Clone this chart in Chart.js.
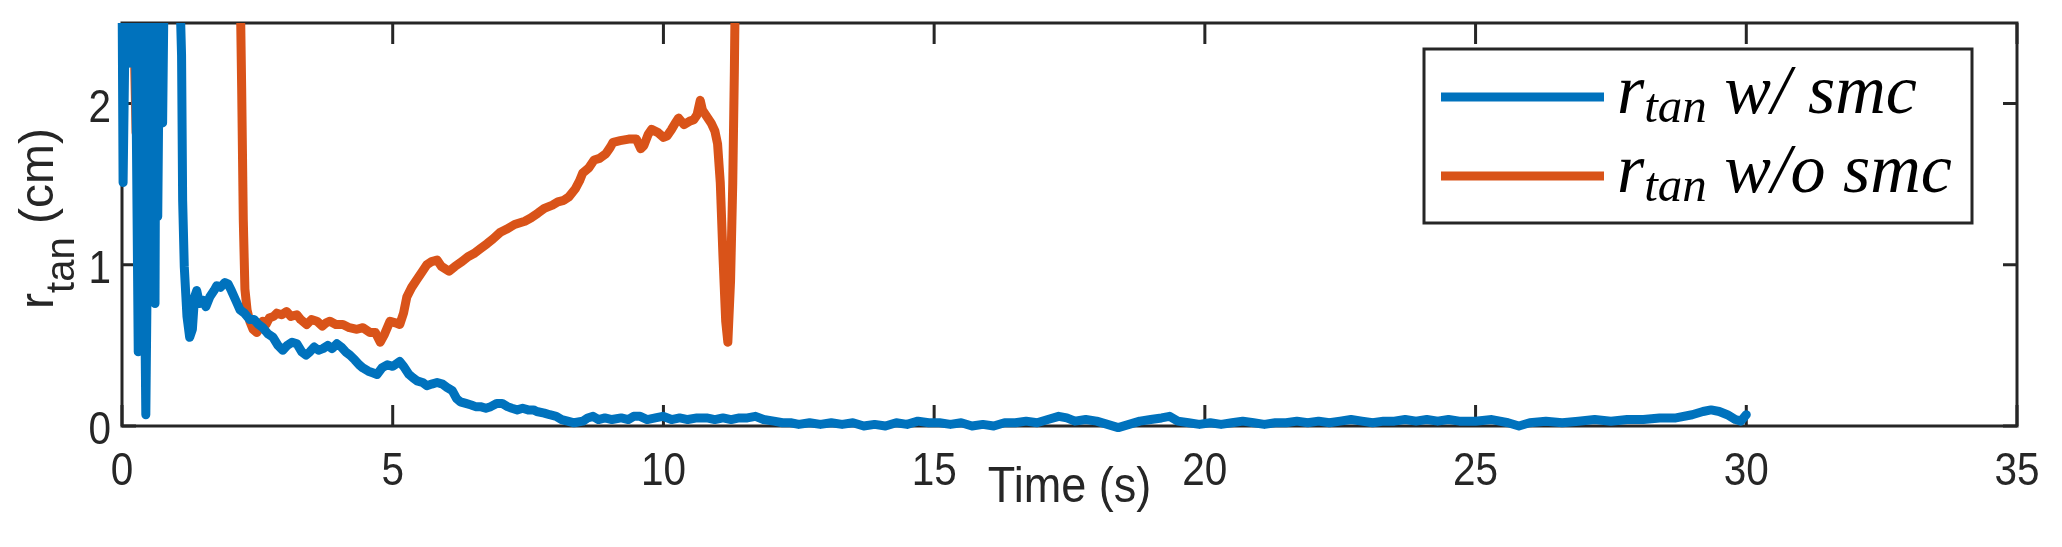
<!DOCTYPE html>
<html>
<head>
<meta charset="utf-8">
<script src="https://cdn.jsdelivr.net/npm/chart.js@4.4.0/dist/chart.umd.min.js"></script>
<style>
  html, body { margin: 0; padding: 0; background: #fff; }
</style>
</head>
<body>
<canvas id="chart" width="2062" height="547"></canvas>
<script>
// values (time in s, r_tan in cm); 2.8 = off the top of the axes
const timeWithSmc = [
  0, 0.02, 0.07, 0.12, 0.17, 0.24, 0.30, 0.36, 0.44, 0.52, 0.58, 0.61, 0.63, 0.66, 0.70, 0.75, 0.78,
  1.06, 1.10, 1.12, 1.15, 1.20, 1.25, 1.30, 1.34, 1.38, 1.43, 1.50, 1.55, 1.62, 1.70, 1.75, 1.82, 1.90, 1.96,
  2.02, 2.10, 2.18, 2.26, 2.36, 2.44, 2.52, 2.60, 2.70, 2.79, 2.88, 2.97, 3.05, 3.14, 3.23, 3.32, 3.40, 3.47,
  3.55, 3.63, 3.71, 3.80, 3.88, 3.97, 4.05, 4.13, 4.21, 4.30, 4.38, 4.45, 4.55, 4.63, 4.71, 4.80, 4.90, 5.00,
  5.13, 5.20, 5.30, 5.37, 5.45, 5.55, 5.63, 5.72, 5.82, 5.92, 6.00, 6.10, 6.18, 6.25, 6.35, 6.45, 6.53, 6.62,
  6.72, 6.81, 6.92, 7.02, 7.12, 7.20, 7.30, 7.40, 7.50, 7.60, 7.66, 7.80, 7.90, 8.02, 8.12, 8.23, 8.35, 8.51,
  8.60, 8.70, 8.80, 8.92, 9.05, 9.22, 9.35, 9.45, 9.57, 9.70, 9.85, 9.99, 10.15, 10.3, 10.45, 10.62, 10.8,
  10.95, 11.1, 11.25, 11.4, 11.55, 11.7, 11.85, 12.04, 12.2, 12.35, 12.5, 12.7, 12.9, 13.1, 13.3, 13.5, 13.7,
  13.9, 14.1, 14.3, 14.5, 14.7, 14.9, 15.1, 15.3, 15.5, 15.7, 15.9, 16.1, 16.3, 16.5, 16.7, 16.9, 17.1, 17.3,
  17.45, 17.6, 17.8, 18.0, 18.2, 18.4, 18.6, 18.8, 19.0, 19.2, 19.35, 19.5, 19.7, 19.9, 20.1, 20.3, 20.5,
  20.7, 20.9, 21.1, 21.3, 21.5, 21.7, 21.9, 22.1, 22.3, 22.5, 22.7, 22.9, 23.1, 23.3, 23.5, 23.7, 23.9, 24.1,
  24.3, 24.5, 24.7, 24.9, 25.0, 25.3, 25.6, 25.8, 26.0, 26.3, 26.6, 26.9, 27.2, 27.5, 27.8, 28.1, 28.4, 28.7,
  29.0, 29.2, 29.35, 29.5, 29.65, 29.8, 29.9, 30.0
];
const rWithSmc = [
  2.8, 1.51, 2.8, 2.25, 2.8, 2.8, 0.46, 2.8, 0.07, 2.8, 2.8, 0.76, 2.8, 1.30, 2.8, 1.88, 2.8,
  2.8, 2.3, 1.40, 0.99, 0.68, 0.55, 0.60, 0.80, 0.84, 0.76, 0.78, 0.74, 0.80, 0.84, 0.87, 0.86, 0.89, 0.88,
  0.84, 0.78, 0.72, 0.70, 0.66, 0.66, 0.63, 0.61, 0.57, 0.55, 0.50, 0.47, 0.50, 0.52, 0.51, 0.46, 0.44, 0.46,
  0.49, 0.47, 0.48, 0.50, 0.48, 0.51, 0.49, 0.46, 0.44, 0.41, 0.38, 0.36, 0.34, 0.33, 0.32, 0.36, 0.38, 0.37,
  0.40, 0.37, 0.32, 0.30, 0.28, 0.27, 0.25, 0.26, 0.27, 0.26, 0.24, 0.22, 0.17, 0.15, 0.14, 0.13, 0.12, 0.12,
  0.11, 0.12, 0.14, 0.14, 0.12, 0.11, 0.10, 0.11, 0.10, 0.10, 0.09, 0.08, 0.07, 0.06, 0.04, 0.03, 0.02, 0.03,
  0.05, 0.06, 0.04, 0.05, 0.04, 0.05, 0.04, 0.06, 0.06, 0.04, 0.05, 0.06, 0.04, 0.05, 0.04, 0.05, 0.05,
  0.04, 0.05, 0.04, 0.05, 0.05, 0.06, 0.04, 0.03, 0.02, 0.02, 0.01, 0.02, 0.01, 0.02, 0.01, 0.02, 0.00,
  0.01, 0.00, 0.02, 0.01, 0.03, 0.02, 0.02, 0.01, 0.02, 0.00, 0.01, 0.00, 0.02, 0.02, 0.03, 0.02, 0.04, 0.06,
  0.05, 0.03, 0.04, 0.03, 0.01, -0.01, 0.01, 0.03, 0.04, 0.05, 0.06, 0.03, 0.02, 0.01, 0.02, 0.01, 0.02,
  0.03, 0.02, 0.01, 0.02, 0.02, 0.03, 0.02, 0.03, 0.02, 0.03, 0.04, 0.03, 0.02, 0.03, 0.03, 0.04, 0.03, 0.04,
  0.03, 0.04, 0.03, 0.03, 0.03, 0.04, 0.02, 0.00, 0.02, 0.03, 0.02, 0.03, 0.04, 0.03, 0.04, 0.04, 0.05, 0.05,
  0.07, 0.09, 0.10, 0.09, 0.07, 0.04, 0.03, 0.07
];

const timeWithoutSmc = [
  0, 0.05, 0.10, 0.20, 0.26, 0.32, 2.18, 2.21, 2.24, 2.27, 2.31, 2.36, 2.42, 2.49, 2.55, 2.60, 2.66, 2.72,
  2.80, 2.86, 2.95, 3.04, 3.12, 3.23, 3.30, 3.41, 3.50, 3.60, 3.70, 3.77, 3.84, 3.95, 4.08, 4.20, 4.34, 4.45,
  4.58, 4.68, 4.77, 4.85, 4.95, 5.05, 5.13, 5.20, 5.26, 5.35, 5.45, 5.55, 5.63, 5.72, 5.82, 5.90, 6.04, 6.15,
  6.28, 6.39, 6.50, 6.62, 6.74, 6.85, 6.98, 7.10, 7.25, 7.44, 7.55, 7.68, 7.80, 7.95, 8.05, 8.16, 8.25, 8.37,
  8.45, 8.51, 8.62, 8.72, 8.82, 8.94, 9.02, 9.07, 9.20, 9.36, 9.50, 9.58, 9.64, 9.72, 9.78, 9.90, 10.00, 10.07,
  10.15, 10.22, 10.28, 10.38, 10.48, 10.56, 10.62, 10.68, 10.72, 10.80, 10.88, 10.95, 11.00, 11.05, 11.10,
  11.15, 11.19, 11.24, 11.28, 11.31, 11.33
];
const rWithoutSmc = [
  2.8, 2.36, 2.8, 2.8, 1.82, 2.8, 2.8, 2.1, 1.28, 0.85, 0.72, 0.65, 0.60, 0.58, 0.61, 0.65, 0.63, 0.67,
  0.68, 0.70, 0.69, 0.71, 0.68, 0.69, 0.66, 0.63, 0.66, 0.65, 0.62, 0.64, 0.65, 0.63, 0.63, 0.61, 0.60, 0.61,
  0.58, 0.58, 0.52, 0.57, 0.65, 0.64, 0.63, 0.70, 0.80, 0.86, 0.91, 0.96, 1.00, 1.02, 1.03, 0.99, 0.96, 0.99,
  1.02, 1.05, 1.07, 1.10, 1.13, 1.16, 1.20, 1.22, 1.25, 1.27, 1.29, 1.32, 1.35, 1.37, 1.39, 1.40, 1.42, 1.47,
  1.52, 1.57, 1.60, 1.65, 1.66, 1.69, 1.73, 1.76, 1.77, 1.78, 1.78, 1.72, 1.74, 1.81, 1.84, 1.82, 1.79, 1.80,
  1.84, 1.88, 1.91, 1.87, 1.89, 1.90, 1.93, 2.02, 1.96, 1.92, 1.88, 1.83, 1.75, 1.51, 1.05,
  0.65, 0.52, 0.90, 1.50, 2.2, 2.8
];

const seriesNames = ["r_{tan} w/ smc", "r_{tan} w/o smc"];
const seriesColors = ["#0072BD", "#D95319"];
const xRange = [0, 35];
const yRange = [0, 2.5];
const xTicks = [0, 5, 10, 15, 20, 25, 30, 35];
const yTicks = [0, 1, 2];
const xLabel = "Time (s)";
const yLabel = "r_{tan} (cm)";

const axisColor = "#262626";

const toPoints = (xs, ys) => xs.map((x, i) => ({ x, y: ys[i] }));

// horizontally squeezed text, like the exported figure
const drawText = (ctx, str, x, y, squeeze) => {
  ctx.save();
  ctx.translate(x, y);
  ctx.scale(squeeze, 1);
  ctx.fillText(str, 0, 0);
  ctx.restore();
};

const splitSub = (str) => {
  const m = str.match(/^(.*?)_\{(.*?)\}(.*)$/);
  return m ? [m[1], m[2], m[3]] : [str, "", ""];
};

const axesBox = {
  id: "axesBox",
  beforeDatasetsDraw(chart) {
    const { ctx, chartArea: a, scales: { x, y } } = chart;
    ctx.save();
    ctx.strokeStyle = axisColor;
    ctx.lineWidth = 3;
    ctx.beginPath();
    x.ticks.forEach((t) => {
      const px = x.getPixelForValue(t.value);
      ctx.moveTo(px, a.bottom); ctx.lineTo(px, a.bottom - 21);
      ctx.moveTo(px, a.top); ctx.lineTo(px, a.top + 21);
    });
    y.ticks.forEach((t) => {
      const py = y.getPixelForValue(t.value);
      ctx.moveTo(a.left, py); ctx.lineTo(a.left + 14, py);
      ctx.moveTo(a.right, py); ctx.lineTo(a.right - 14, py);
    });
    ctx.stroke();
    ctx.strokeRect(a.left, a.top, a.right - a.left, a.bottom - a.top);

    // tick labels
    ctx.fillStyle = axisColor;
    ctx.font = "46px 'Liberation Sans', Arial, sans-serif";
    ctx.textAlign = "center";
    ctx.textBaseline = "alphabetic";
    x.ticks.forEach((t) => {
      drawText(ctx, String(t.value), x.getPixelForValue(t.value), 485, 0.88);
    });
    ctx.textAlign = "right";
    y.ticks.forEach((t) => {
      drawText(ctx, String(t.value), a.left - 11, y.getPixelForValue(t.value) + 18, 0.88);
    });

    // axis labels
    ctx.font = "50px 'Liberation Sans', Arial, sans-serif";
    ctx.textAlign = "center";
    drawText(ctx, xLabel, (a.left + a.right) / 2, 502, 0.9);

    const [main, sub, rest] = splitSub(yLabel);
    const mainFont = "48px 'Liberation Sans', Arial, sans-serif";
    const subFont = "40px 'Liberation Sans', Arial, sans-serif";
    ctx.font = mainFont;
    const w1 = ctx.measureText(main).width;
    const w3 = ctx.measureText(rest).width;
    ctx.font = subFont;
    const w2 = ctx.measureText(sub).width;
    const total = w1 + w2 + w3;
    ctx.save();
    ctx.translate(53, (a.top + a.bottom) / 2 - 6);
    ctx.rotate(-Math.PI / 2);
    ctx.textAlign = "left";
    let cx = -total / 2;
    ctx.font = mainFont;
    ctx.fillText(main, cx, 0);
    cx += w1;
    ctx.font = subFont;
    ctx.fillText(sub, cx, 21);
    cx += w2;
    ctx.font = mainFont;
    ctx.fillText(rest, cx, 0);
    ctx.restore();
    ctx.restore();
  },
  afterDatasetsDraw(chart) {
    const { ctx, chartArea: a } = chart;
    const box = { left: a.right - 593, top: a.top + 26, width: 548, height: 174 };
    ctx.save();
    ctx.fillStyle = "#fff";
    ctx.fillRect(box.left, box.top, box.width, box.height);
    ctx.strokeStyle = axisColor;
    ctx.lineWidth = 3;
    ctx.strokeRect(box.left, box.top, box.width, box.height);

    chart.data.datasets.forEach((ds, i) => {
      const yLine = box.top + 48 + i * 79;
      ctx.strokeStyle = ds.borderColor;
      ctx.lineWidth = 9;
      ctx.lineCap = "butt";
      ctx.beginPath();
      ctx.moveTo(box.left + 17, yLine);
      ctx.lineTo(box.left + 180, yLine);
      ctx.stroke();

      const [main, sub, rest] = splitSub(ds.label);
      const base = yLine + 16;
      let cx = box.left + 193;
      ctx.fillStyle = "#000";
      ctx.textAlign = "left";
      ctx.textBaseline = "alphabetic";
      ctx.font = "italic 70px 'Liberation Serif', 'Times New Roman', serif";
      ctx.fillText(main, cx, base);
      cx += ctx.measureText(main).width;
      ctx.font = "italic 49px 'Liberation Serif', 'Times New Roman', serif";
      ctx.fillText(sub, cx, base + 9);
      cx += ctx.measureText(sub).width;
      ctx.font = "italic 70px 'Liberation Serif', 'Times New Roman', serif";
      ctx.fillText(rest, cx, base);
    });
    ctx.restore();
  },
};

new Chart(document.getElementById("chart"), {
  type: "line",
  data: {
    datasets: [
      { label: seriesNames[0], data: toPoints(timeWithSmc, rWithSmc), borderColor: seriesColors[0] },
      { label: seriesNames[1], data: toPoints(timeWithoutSmc, rWithoutSmc), borderColor: seriesColors[1] },
    ],
  },
  options: {
    responsive: false,
    animation: false,
    devicePixelRatio: 1,
    layout: { padding: { left: 122, right: 45, top: 23, bottom: 121 } },
    datasets: {
      line: {
        borderWidth: 9,
        pointRadius: 0,
        tension: 0,
        fill: false,
        borderJoinStyle: "round",
        borderCapStyle: "round",
        clip: { left: 5, top: 0, right: 0, bottom: 6 },
      },
    },
    plugins: { legend: { display: false }, tooltip: { enabled: false } },
    scales: {
      x: {
        type: "linear",
        min: xRange[0],
        max: xRange[1],
        afterBuildTicks: (s) => { s.ticks = xTicks.map((value) => ({ value })); },
        ticks: { display: false },
        grid: { display: false },
        border: { display: false },
        afterFit: (s) => { s.height = 0; },
      },
      y: {
        min: yRange[0],
        max: yRange[1],
        afterBuildTicks: (s) => { s.ticks = yTicks.map((value) => ({ value })); },
        ticks: { display: false },
        grid: { display: false },
        border: { display: false },
        afterFit: (s) => { s.width = 0; },
      },
    },
  },
  plugins: [axesBox],
});
</script>
</body>
</html>
